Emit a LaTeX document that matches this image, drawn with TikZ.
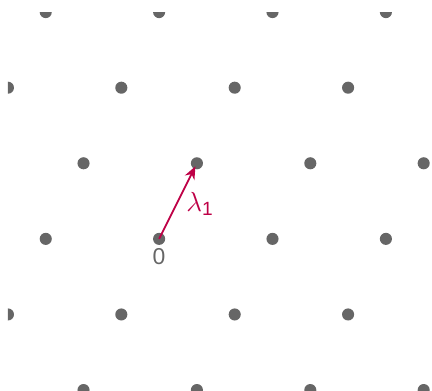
\documentclass[tikz,border=0pt]{standalone}
\usepackage{fontspec}
\setsansfont{Liberation Sans}
\usetikzlibrary{arrows.meta,positioning}
\definecolor{dotgray}{RGB}{102,102,102}
\definecolor{crimson}{RGB}{190,0,70}

\begin{document}
\begin{tikzpicture}
    \useasboundingbox (-4.21,-4) rectangle (7.22,6.32);
    \begin{scope}
      \clip (-4,-4) rectangle (7.4,6);
      \foreach \i in {-2,...,3}
        \foreach \j in {-3,...,3}
        {
          \node[circle,fill=dotgray,inner sep=0pt,minimum size=3.2mm] (p\i\j) at ({\i+3*\j},{2*\i}) {};
        }
    \end{scope}
    \node[below=-0.5mm of p00,font=\sffamily\LARGE,text=dotgray] (zero) {0};
    \draw[crimson,line width=1.4pt,shorten >=0.9mm,-{Stealth[length=3.4mm,width=2.8mm]}] (p00.center) -- (p10.center);
    \node[crimson,font=\huge] (lam) at (1.08,0.93) {$\lambda_{\mbox{\sffamily\Large 1}}$};
\end{tikzpicture}
\end{document}
